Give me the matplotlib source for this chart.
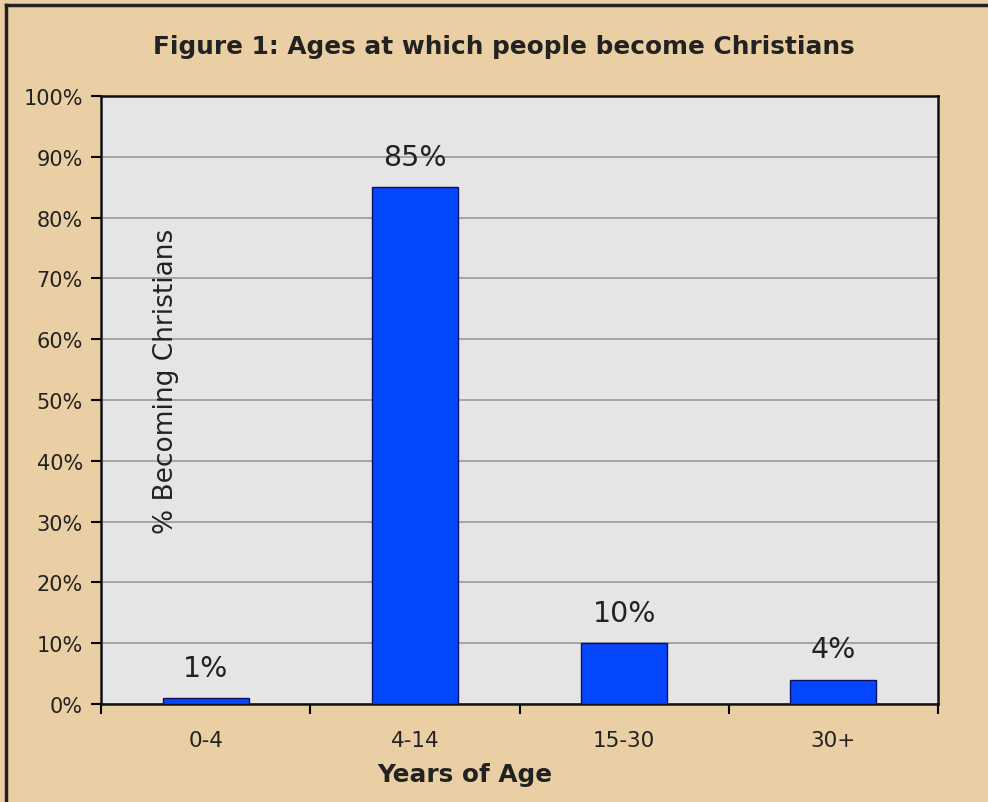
import matplotlib
matplotlib.use("Agg")
import matplotlib.pyplot as plt
from matplotlib.lines import Line2D

categories = ["0-4", "4-14", "15-30", "30+"]
values = [1, 85, 10, 4]
value_labels = ["1%", "85%", "10%", "4%"]
yticks = [0, 10, 20, 30, 40, 50, 60, 70, 80, 90, 100]
ytick_labels = [f"{v}%" for v in yticks]

title = "Figure 1: Ages at which people become Christians"
xlabel = "Years of Age"
ylabel = "% Becoming Christians"

plt.rcParams['font.family'] = ['DejaVu Sans']

fig = plt.figure(figsize=(9.88, 8.03), dpi=100)
fig.patch.set_facecolor('#E9CFA3')

# outer border (top & left visible)
fig.add_artist(Line2D([6/988, 6/988], [0, 1 - 6/803], transform=fig.transFigure, color='#222222', lw=2.5))
fig.add_artist(Line2D([6/988, 1], [1 - 6/803, 1 - 6/803], transform=fig.transFigure, color='#222222', lw=2.5))

ax = fig.add_axes([101/988, 98/803, (938-101)/988, (705-97)/803])
ax.set_facecolor('#E6E5E5')

x = list(range(len(categories)))
ax.bar(x, values, width=0.41, color='#0546FF', edgecolor='#101060', linewidth=1.0, zorder=3)

for xi, v, lab in zip(x, values, value_labels):
    ax.annotate(lab, (xi, v), xytext=(0, 16), textcoords='offset points',
                ha='center', va='baseline', fontsize=20.5, color='#222222', zorder=4)

ax.set_xlim(-0.5, len(categories) - 0.5)
ax.set_ylim(0, 100)
ax.set_yticks(yticks)
ax.set_yticklabels(ytick_labels, fontsize=15, color='#222222')
ax.yaxis.grid(True, color='#9A9A9A', linewidth=1.2, zorder=1)
ax.set_axisbelow(True)

# x ticks at category boundaries, labels at centres
ax.set_xticks([i + 0.5 for i in range(-1, len(categories))])
ax.set_xticklabels([])
ax.set_xticks(x, minor=True)
ax.set_xticklabels(categories, minor=True, fontsize=15.5, color='#222222')
ax.tick_params(axis='x', which='minor', length=0, pad=18.5)
ax.tick_params(axis='x', which='major', length=7, width=1.5, direction='out')
ax.tick_params(axis='y', length=7, width=1.5, direction='out', pad=6)

for s in ax.spines.values():
    s.set_color('#111111')
    s.set_linewidth(1.8)

ax.text(0.078, 0.533, ylabel, transform=ax.transAxes, rotation=90,
        ha='center', va='center', fontsize=19, color='#222222')

fig.text(465/988, 1 - 775/803, xlabel, ha='center', va='center',
         fontsize=17.8, fontweight='bold', color='#222222')
fig.text(504/988, 1 - 47/803, title, ha='center', va='center',
         fontsize=17.8, fontweight='bold', color='#222222')

fig.savefig("out.png", dpi=100, facecolor=fig.get_facecolor())
